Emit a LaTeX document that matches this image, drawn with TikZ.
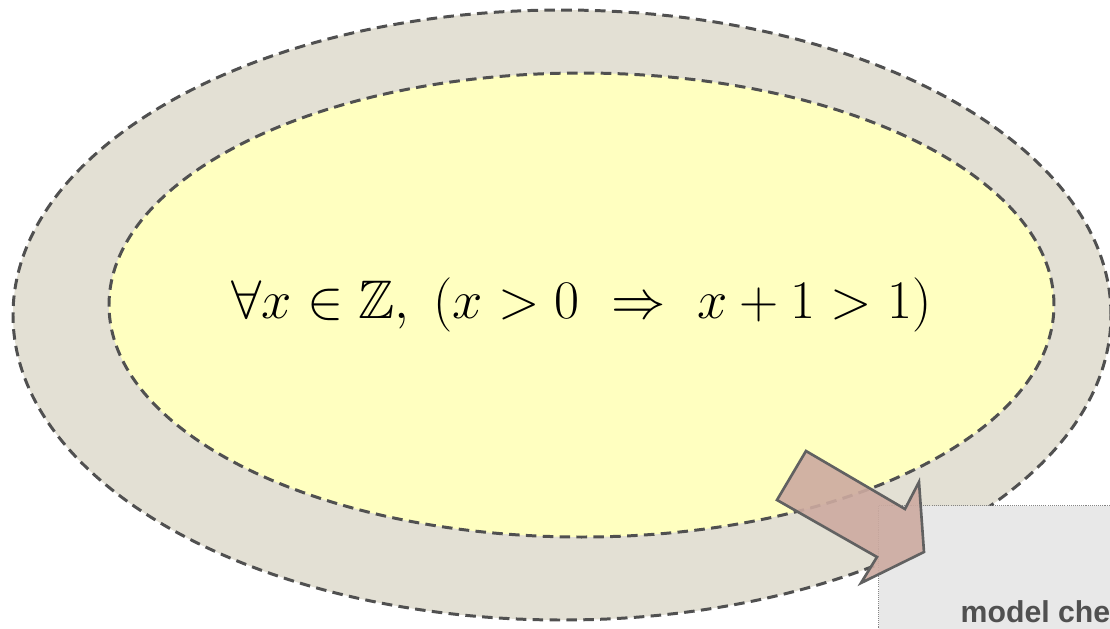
\documentclass[tikz,border=0pt]{standalone}
\usepackage{amsmath,amssymb}
\usepackage{graphicx}
\usepackage{fontspec}
\newfontfamily\helv{Liberation Sans}
\usetikzlibrary{shapes.geometric}
\definecolor{ringgray}{RGB}{227,224,212}
\definecolor{propyellow}{RGB}{255,255,192}
\definecolor{edgegray}{RGB}{80,80,80}
\definecolor{boxgray}{RGB}{232,232,232}
\definecolor{arrowrose}{RGB}{205,170,160}
\tikzset{
    dashedge/.style={draw=edgegray, line width=0.85pt, dash pattern=on 3pt off 1.8pt},
    ring/.style={ellipse, dashedge, fill=ringgray, inner sep=0pt},
    prop/.style={ellipse, dashedge, fill=propyellow, inner sep=0pt,
        font=\fontsize{17.28}{20}\selectfont},
    toolbox/.style={rectangle, draw=edgegray!70, fill=boxgray, line width=0.3pt,
        dash pattern=on 0.3pt off 0.3pt, inner sep=0pt},
    fatarrow/.style={fill=arrowrose, fill opacity=0.9, draw=edgegray!90, line width=0.75pt,
        line join=miter}
}
\begin{document}
\begin{tikzpicture}
    \useasboundingbox (0,0) rectangle (11.10,6.28);
    \clip (0,0) rectangle (11.10,6.28);
    % Outer ring and proposition
    \node[ring, minimum width=10.98cm, minimum height=6.10cm] (context) at (5.62,3.13) {};
    \node[prop, minimum width=9.45cm, minimum height=4.64cm] (formula) at (5.815,3.23)
        {\makebox[0pt]{\scalebox{0.895}{$\forall x \in \mathbb{Z},\; (x > 0 \ \Rightarrow\ x + 1 > 1)$}}};
    % Tool box
    \node[toolbox, anchor=north west, minimum width=3.92cm, minimum height=2cm] (checker) at (8.78,1.23) {};
    \node[anchor=base west, inner sep=0pt, text=edgegray, font=\helv\bfseries\fontsize{8.6}{10}\selectfont]
        (checkerlabel) at (9.60,0.06) {model checking};
    % Fat arrow into the box
    \draw[fatarrow] (8.06,1.77) -- (9.05,1.19) -- (9.19,1.46) -- (9.24,0.76)
        -- (8.61,0.45) -- (8.77,0.71) -- (7.77,1.28) -- cycle;
\end{tikzpicture}
\end{document}
